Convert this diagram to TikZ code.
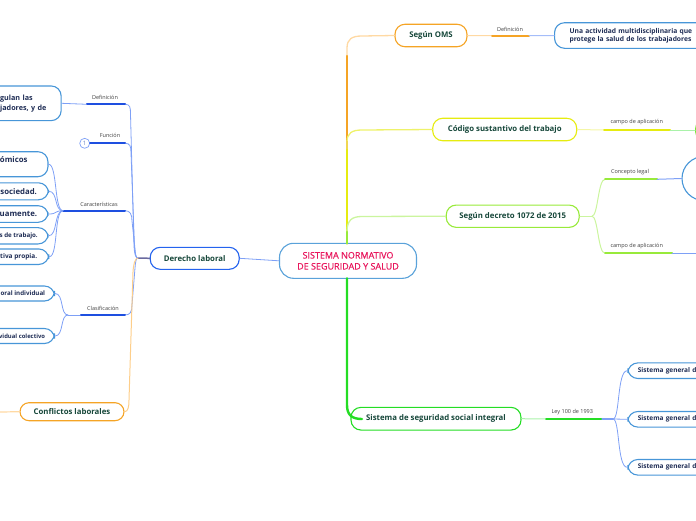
\documentclass[tikz,border=0pt]{standalone}
\usepackage{fontspec}
\setmainfont{Open Sans}
\newfontfamily\ctrfont[FakeBold=0.5]{Open Sans}
\definecolor{dkgreen}{HTML}{16473A}
\definecolor{navy}{HTML}{1F2D55}
\definecolor{crimson}{HTML}{E8175D}
\definecolor{cborder}{HTML}{5AA2DA}
\definecolor{dborder}{HTML}{2463EE}
\definecolor{childblue}{HTML}{4796D8}
\definecolor{thickblue}{HTML}{1E4FE0}
\definecolor{thinblue}{HTML}{7EA0F6}
\definecolor{stubgray}{HTML}{6A6AA0}
\definecolor{lblgray}{HTML}{404040}
\definecolor{orng}{HTML}{F5A425}
\definecolor{lorng}{HTML}{FFD9A3}
\definecolor{yell}{HTML}{E6EC10}
\definecolor{lyell}{HTML}{F4F6A6}
\definecolor{ygreen}{HTML}{98EA3A}
\definecolor{lygreen}{HTML}{CBF59E}
\definecolor{grn}{HTML}{24DD24}
\definecolor{lgrn}{HTML}{A9F2A9}
\tikzset{
  bx/.style={draw, rounded corners=10pt, line width=1.1pt, inner sep=0pt, fill=white,
    font=\fontsize{7.8}{10}\selectfont\bfseries, text=dkgreen},
  lf/.style={bx, draw=childblue, text=navy},
  smallf/.style={font=\fontsize{6.2}{8}\selectfont\bfseries},
  lbl/.style={font=\fontsize{5.5}{6}\selectfont, text=lblgray, inner sep=0pt},
  thinb/.style={draw=thinblue, line width=0.8pt},
  thickb/.style={draw=thickblue, line width=2pt},
}
\begin{document}
\begin{tikzpicture}[x=1pt,y=-1pt,line cap=round]
\useasboundingbox (0,0) rectangle (696,520);

% ---------------- centre ----------------
\node[bx, draw=cborder, text=crimson, minimum width=137pt, minimum height=35pt, rounded corners=14pt,
  font=\ctrfont\fontsize{9}{11}\selectfont, align=center] (ctr) at (348,260.8) {SISTEMA NORMATIVO\\DE SEGURIDAD Y SALUD};

% ---------------- left ----------------
\node[bx, draw=dborder, minimum width=89pt, minimum height=22pt] (der) at (194.7,258.3) {Derecho laboral};
\coordinate (jL) at (138,258);

% leaves
\node[lf, font=\fontsize{7.2}{10}\selectfont\bfseries, anchor=east, text width=48pt, align=left, inner xsep=13pt, minimum height=34.7pt] (defn) at (61.7,103.3) {gulan las\\jadores, y de};
\node[lf, anchor=east, text width=37pt, align=left, inner xsep=11pt, minimum height=25pt] (c1) at (48.5,164.2) {ómicos\\\mbox{}};
\node[lf, anchor=east, inner xsep=11.5pt, minimum height=17pt] (c2) at (49,191.3) {\hspace*{30pt}sociedad.};
\node[lf, anchor=east, inner xsep=11pt, minimum height=16.6pt] (c3) at (48.7,214) {\hspace*{30pt}uamente.};
\node[lf, smallf, anchor=east, inner xsep=10.4pt, minimum height=16.3pt] (c4) at (48.7,235.8) {\hspace*{30pt}s de trabajo.};
\node[lf, font=\fontsize{6.5}{8}\selectfont\bfseries, anchor=east, inner xsep=11.6pt, minimum height=15.5pt] (c5) at (49.3,256.7) {\hspace*{30pt}tiva propia.};
\node[lf, smallf, anchor=east, inner xsep=9.3pt, minimum height=15pt] (k1) at (55,293.5) {\hspace*{30pt}oral individual};
\node[lf, font=\fontsize{5.9}{8}\selectfont\bfseries, anchor=east, inner xsep=9.3pt, minimum height=15pt] (k2) at (55,336) {\hspace*{30pt}vidual colectivo};
\node[bx, draw=orng, minimum width=104pt, minimum height=18pt, rounded corners=9pt] (conf) at (72,411.7) {Conflictos laborales};
\coordinate (confL) at (0,412);

% labels
\node[lbl] (lDef) at (105,97) {Definición};
\node[lbl] (lFun) at (110,135.7) {Función};
\node[lbl] (lCar) at (99,204) {Características};
\node[lbl] (lCla) at (103,308) {Clasificación};
\node[circle, draw=thinblue, line width=0.7pt, minimum size=10pt, inner sep=0pt, fill=white,
  font=\fontsize{6}{6}\selectfont, text=thinblue!80!black] (f1) at (84.7,143.3) {1};

\coordinate (dA) at (87,104.3);   \coordinate (dB) at (125,104.3);
\coordinate (fB) at (125,143.3);
\coordinate (kJ) at (63,210.7);   \coordinate (kB) at (125,210.7);
\coordinate (sJ) at (68,315);     \coordinate (sA) at (81,315); \coordinate (sB) at (125,315);

% connectors left
\draw[thinb] (ctr.west) -- (der.east);
\draw[draw=stubgray, line width=1.5pt] (jL) -- (der.west);
\draw[thinb] (dB) .. controls (130,104.3) and (130.5,107) .. (130.5,114) -- (134,246) .. controls (134.5,254) and (135.5,258) .. (jL);
\draw[thinb] (fB) .. controls (130,143.3) and (131,146) .. (131,153) -- (134.5,247) .. controls (135,254) and (135.8,258) .. (jL);
\draw[thinb] (kB) .. controls (130,210.7) and (132,214) .. (132,221) -- (135,249) .. controls (135.5,255) and (136,258) .. (jL);
\draw[thinb] (sB) .. controls (130,315) and (132,312) .. (132,305) -- (135,268) .. controls (135.5,262) and (136,258) .. (jL);
\draw[draw=lorng!80!orng, line width=1pt] (conf.east) .. controls (128,411.7) and (129,407) .. (129,400) -- (133,272) .. controls (133.5,264) and (135,258) .. (jL);
\draw[draw=lorng, line width=1.2pt] (confL) -- (conf.west);

\draw[thinb] (defn.east) -- (dA);
\draw[thickb] (dA) -- (dB);
\draw[thickb] (f1.east) -- (fB);
\draw[thickb] (kJ) -- (kB);
\foreach \n in {c1,c2,c3,c4,c5}
  \draw[thinb] (\n.east) .. controls +(9,0) and (54,210.7) .. (kJ);
\draw[thinb] (k1.east) .. controls (64,293.5) and (60,315) .. (sJ);
\draw[thinb] (k2.east) .. controls (64,336) and (60,315) .. (sJ);
\draw[thinb] (sJ) -- (sA);
\draw[thickb] (sA) -- (sB);

% ---------------- right ----------------
\node[bx, draw=orng, minimum width=72pt, minimum height=22.5pt] (oms) at (431,35.5) {Según OMS};
\node[bx, draw=yell, minimum width=144pt, minimum height=22.5pt] (cod) at (504.7,129.5) {Código sustantivo del trabajo};
\node[bx, draw=ygreen, minimum width=133pt, minimum height=22.3pt] (dec) at (512.7,216.2) {Según decreto 1072 de 2015};
\node[bx, draw=grn, minimum width=170pt, minimum height=22.7pt] (sss) at (436,418.7) {Sistema de seguridad social integral};

\node[lf, anchor=west, text width=135pt, align=left, inner xsep=15pt, minimum height=25.6pt,
  font=\fontsize{6.7}{8.4}\selectfont\bfseries] (una) at (554,35.5) {Una actividad multidisciplinaria que\\protege la salud de los trabajadores};
\node[bx, draw=ygreen!70!grn, anchor=west, minimum width=40pt, minimum height=22pt] (cap1) at (695,130) {};
\node[circle, draw=childblue, line width=1.1pt, minimum size=44pt, fill=white] (clg) at (704,178.5) {};
\coordinate (cap2) at (700,253.3);
\node[lf, anchor=west, text width=70pt, align=left, inner xsep=10pt, minimum height=15.6pt,
  font=\fontsize{6.5}{8}\selectfont\bfseries] (sg1) at (627.3,370.7) {Sistema general de};
\node[lf, anchor=west, text width=70pt, align=left, inner xsep=10pt, minimum height=15.6pt,
  font=\fontsize{6.5}{8}\selectfont\bfseries] (sg2) at (627.3,419.3) {Sistema general de};
\node[lf, anchor=west, text width=70pt, align=left, inner xsep=10pt, minimum height=15.6pt,
  font=\fontsize{6.5}{8}\selectfont\bfseries] (sg3) at (627.3,467.3) {Sistema general de};

\node[lbl] (lOms) at (510,29) {Definición};
\node[lbl] (lCod) at (636.7,122) {campo de aplicación};
\node[lbl] (lCon) at (630,172) {Concepto legal};
\node[lbl] (lCam) at (636.7,246) {campo de aplicación};
\node[lbl] (lLey) at (572.3,411.7) {Ley 100 de 1993};

% trunk
\coordinate (tr) at (347,243.3);
\coordinate (trb) at (347,278.3);
\draw[draw=lorng, line width=1.3pt] (347,60) -- (347,48) .. controls (347,39) and (352,36) .. (362,36) -- (oms.west);
\draw[draw=orng, line width=2.4pt] (tr) -- (347,56);
\draw[draw=lyell!60!yell, line width=1.3pt] (347,154) -- (347,142) .. controls (347,133) and (352,130) .. (362,130) -- (cod.west);
\draw[draw=yell, line width=2.4pt] (tr) -- (347,150);
\draw[draw=lygreen, line width=1.3pt] (347,232) .. controls (347,220) and (352,216.5) .. (362,216.5) -- (dec.west);
\draw[draw=ygreen, line width=2.4pt] (tr) -- (347,232);
\draw[draw=grn, line width=2.4pt] (trb) -- (347,405) .. controls (347,415) and (352,419) .. (362,419);

% OMS branch
\coordinate (oA) at (492,35.7); \coordinate (oB) at (529,35.7);
\draw[draw=lorng, line width=1pt] (oms.east) -- (oA);
\draw[draw=orng, line width=2pt] (oA) -- (oB);
\draw[draw=thinblue!70, line width=1pt] (oB) -- (una.west);

% Código branch
\coordinate (cA) at (604,130); \coordinate (cB) at (670,130);
\draw[draw=lyell, line width=1pt] (cod.east) -- (cA);
\draw[draw=yell, line width=2pt] (cA) -- (cB);
\draw[draw=lgrn, line width=1pt] (cB) -- (cap1.west);

% Decreto branch
\coordinate (dJ) at (592,216.2);
\coordinate (eA) at (605,179.3); \coordinate (eB) at (657,179.3);
\coordinate (gA) at (605,253.3); \coordinate (gB) at (672,253.3);
\draw[draw=lygreen, line width=1pt] (dec.east) -- (dJ);
\draw[draw=lygreen, line width=1pt] (dJ) .. controls (598,216.2) and (598,179.3) .. (eA);
\draw[draw=lygreen, line width=1pt] (dJ) .. controls (598,216.2) and (598,253.3) .. (gA);
\draw[draw=ygreen, line width=2pt] (eA) -- (eB);
\draw[draw=ygreen, line width=2pt] (gA) -- (gB);
\draw[draw=thinblue, line width=1pt] (eB) -- (clg.west);
\draw[draw=thinblue, line width=1pt] (gB) -- (cap2);

% Sistema branch
\coordinate (hA) at (546,419); \coordinate (hB) at (602,419); \coordinate (hJ) at (613,419);
\draw[draw=lgrn, line width=1pt] (sss.east) -- (hA);
\draw[draw=grn, line width=2pt] (hA) -- (hB);
\draw[draw=thinblue, line width=1.2pt] (hB) -- (hJ);
\draw[thinb] (hJ) .. controls (620,419) and (617,370.7) .. (sg1.west);
\draw[thinb] (hJ) -- (sg2.west);
\draw[thinb] (hJ) .. controls (620,419) and (617,467.3) .. (sg3.west);
\end{tikzpicture}
\end{document}
